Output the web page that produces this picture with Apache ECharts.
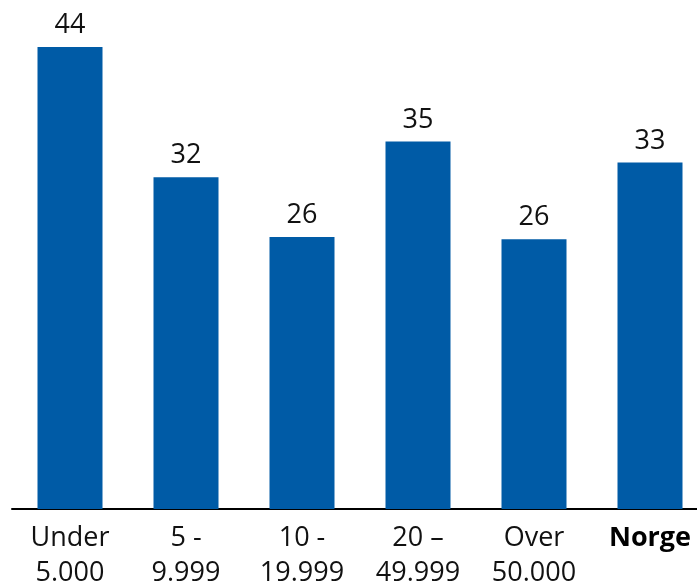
<!DOCTYPE html>
<html><head><meta charset="utf-8">
<script src="https://cdn.jsdelivr.net/npm/echarts@6/dist/echarts.min.js"></script>
<style>html,body{margin:0;padding:0;background:#fff}#c{width:697px;height:586px}</style>
</head><body><div id="c"></div>
<script>
const categories = ['Under\n5.000', '5 -\n9.999', '10 -\n19.999', '20 –\n49.999', 'Over\n50.000', 'Norge'];
const values = [44, 31.6, 25.9, 35, 25.7, 33];

const chart = echarts.init(document.getElementById('c'), null, {renderer: 'canvas'});
chart.setOption({
  animation: false,
  grid: {left: 12, top: 5, bottom: 77, width: 696, containLabel: false, outerBoundsMode: 'none'},
  xAxis: {
    type: 'category',
    data: categories,
    axisLine: {show: true, lineStyle: {color: '#000', width: 2}},
    axisTick: {show: false},
    axisLabel: {
      color: '#111', fontFamily: 'Open Sans', fontSize: 27, lineHeight: 35, margin: 12,
      interval: 0,
      formatter: function (v) { return v === 'Norge' ? '{b|' + v + '}' : v; },
      rich: {b: {fontWeight: 'bold', fontSize: 27, fontFamily: 'Open Sans', color: '#000', lineHeight: 35}}
    }
  },
  yAxis: {type: 'value', min: 0, max: 48, show: false, splitLine: {show: false}},
  series: [{
    type: 'bar',
    data: values,
    barWidth: 65,
    itemStyle: {color: '#005BA6'},
    label: {
      show: true, position: 'top', distance: 8,
      color: '#111', fontFamily: 'Open Sans', fontSize: 27,
      formatter: function (p) { return Math.round(p.value); }
    }
  }]
});
</script></body></html>
